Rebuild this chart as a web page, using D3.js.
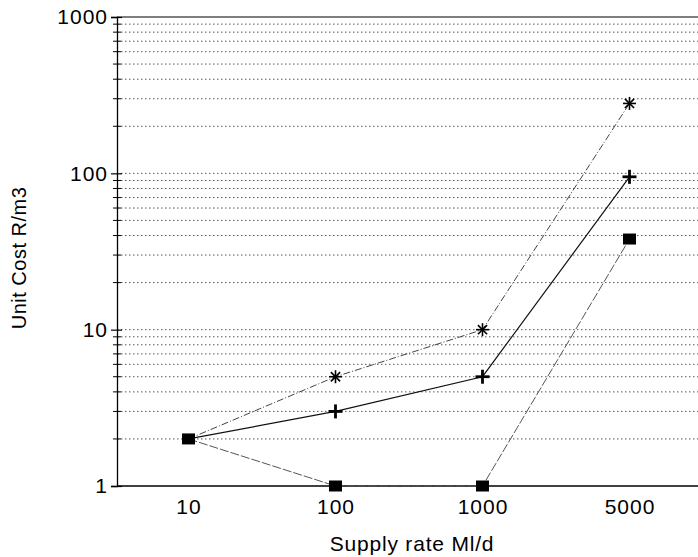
<!DOCTYPE html>
<html>
<head>
<meta charset="utf-8">
<script src="https://cdn.jsdelivr.net/npm/d3@7"></script>
<style>
  body { margin: 0; background: #fff; }
  text { font-family: "Liberation Sans", Arial, sans-serif; fill: #000; }
</style>
</head>
<body>
<svg id="chart"></svg>
<script>
// Supply rate categories (x axis) and unit cost series
const supplyRates = ["10", "100", "1000", "5000"];
const costStar = [2, 5, 10, 280];
const costPlus = [2, 3, 5, 95];
const costSquare = [2, 1, 1, 38];
const yTickValues = [1, 10, 100, 1000];

const width = 698, height = 557;
const margin = {top: 17, left: 117, bottom: 486};

const svg = d3.select("#chart")
  .attr("width", width)
  .attr("height", height);

const x = d3.scalePoint()
  .domain(supplyRates)
  .range([115, 703])
  .padding(0.5);

const y = d3.scaleLog()
  .domain([1, 1000])
  .range([margin.bottom, margin.top]);

// minor tick values 2..9 per decade, plus the decades
let gridValues = [];
[1, 10, 100].forEach(d => {
  for (let k = 1; k <= 9; k++) gridValues.push(d * k);
});
gridValues = gridValues.filter(v => v > 1);

// dotted gridlines
svg.append("g")
  .selectAll("line")
  .data(gridValues)
  .join("line")
  .attr("x1", margin.left)
  .attr("x2", width)
  .attr("y1", d => y(d))
  .attr("y2", d => y(d))
  .attr("stroke", "#555")
  .attr("stroke-width", 1)
  .attr("stroke-dasharray", "1.5,2.5");

// left axis with crossing ticks
const yAxis = svg.append("g")
  .attr("transform", `translate(${margin.left},0)`)
  .call(d3.axisLeft(y).tickValues(yTickValues).tickFormat(d3.format("d")).tickSize(6).tickPadding(3));
yAxis.select(".domain").attr("stroke", "#000").attr("stroke-width", 1.3);
yAxis.selectAll(".tick line").attr("x2", 5).attr("x1", -6).attr("stroke-width", 1.2);
yAxis.selectAll(".tick text")
  .attr("font-size", 21)
  .attr("letter-spacing", 1)
  .attr("font-family", "'Liberation Sans', Arial, sans-serif")
  .attr("fill", "#000");

// minor ticks on the left axis
svg.append("g")
  .selectAll("line")
  .data(gridValues.filter(v => !yTickValues.includes(v)))
  .join("line")
  .attr("x1", margin.left - 4)
  .attr("x2", margin.left + 4)
  .attr("y1", d => y(d))
  .attr("y2", d => y(d))
  .attr("stroke", "#000")
  .attr("stroke-width", 1);

// bottom axis
const xAxis = svg.append("g")
  .attr("transform", `translate(0,${margin.bottom})`)
  .call(d3.axisBottom(x).tickSize(0).tickPadding(13));
xAxis.select(".domain").remove();
xAxis.selectAll(".tick text")
  .attr("font-size", 21)
  .attr("letter-spacing", 1)
  .attr("font-family", "'Liberation Sans', Arial, sans-serif")
  .attr("fill", "#000");
svg.append("line")
  .attr("x1", margin.left).attr("x2", width)
  .attr("y1", margin.bottom).attr("y2", margin.bottom)
  .attr("stroke", "#000").attr("stroke-width", 1.3);

// top border
svg.append("line")
  .attr("x1", margin.left).attr("x2", width)
  .attr("y1", margin.top).attr("y2", margin.top)
  .attr("stroke", "#000").attr("stroke-width", 1.2);

// axis titles
svg.append("text")
  .attr("x", 412)
  .attr("y", 551)
  .attr("text-anchor", "middle")
  .attr("font-size", 21)
  .attr("letter-spacing", 0.8)
  .text("Supply rate Ml/d");

svg.append("text")
  .attr("transform", "translate(26,258) rotate(-90)")
  .attr("text-anchor", "middle")
  .attr("font-size", 20)
  .attr("letter-spacing", 0.5)
  .text("Unit Cost R/m3");

// series lines
const line = d3.line()
  .x((d, i) => x(supplyRates[i]))
  .y(d => y(d));

svg.append("path")
  .datum(costStar)
  .attr("d", line)
  .attr("fill", "none")
  .attr("stroke", "#444")
  .attr("stroke-width", 1)
  .attr("stroke-dasharray", "7,2,1,2");

svg.append("path")
  .datum(costPlus)
  .attr("d", line)
  .attr("fill", "none")
  .attr("stroke", "#111")
  .attr("stroke-width", 1.2);

svg.append("path")
  .datum(costSquare)
  .attr("d", line)
  .attr("fill", "none")
  .attr("stroke", "#555")
  .attr("stroke-width", 1)
  .attr("stroke-dasharray", "9,2");

// points hidden under a square marker are not drawn
const hidden = (v, i) => v === costSquare[i];

// markers: asterisk
costStar.forEach((v, i) => {
  if (hidden(v, i)) return;
  const g = svg.append("g")
    .attr("transform", `translate(${x(supplyRates[i])},${y(v)})`);
  [0, 45, 90, 135].forEach(a => {
    g.append("line")
      .attr("x1", -6.5).attr("x2", 6.5)
      .attr("y1", 0).attr("y2", 0)
      .attr("transform", `rotate(${a})`)
      .attr("stroke", "#000")
      .attr("stroke-width", 1.6);
  });
});

// markers: plus
costPlus.forEach((v, i) => {
  if (hidden(v, i)) return;
  const g = svg.append("g")
    .attr("transform", `translate(${x(supplyRates[i])},${y(v)})`);
  g.append("line").attr("x1", -7).attr("x2", 7).attr("y1", 0).attr("y2", 0)
    .attr("stroke", "#000").attr("stroke-width", 2.8);
  g.append("line").attr("x1", 0).attr("x2", 0).attr("y1", -7).attr("y2", 7)
    .attr("stroke", "#000").attr("stroke-width", 2.8);
});

// markers: square
svg.append("g")
  .selectAll("rect")
  .data(costSquare)
  .join("rect")
  .attr("x", (d, i) => x(supplyRates[i]) - 6.5)
  .attr("y", d => y(d) - 5.5)
  .attr("width", 13)
  .attr("height", 11)
  .attr("fill", "#000");
</script>
</body>
</html>
